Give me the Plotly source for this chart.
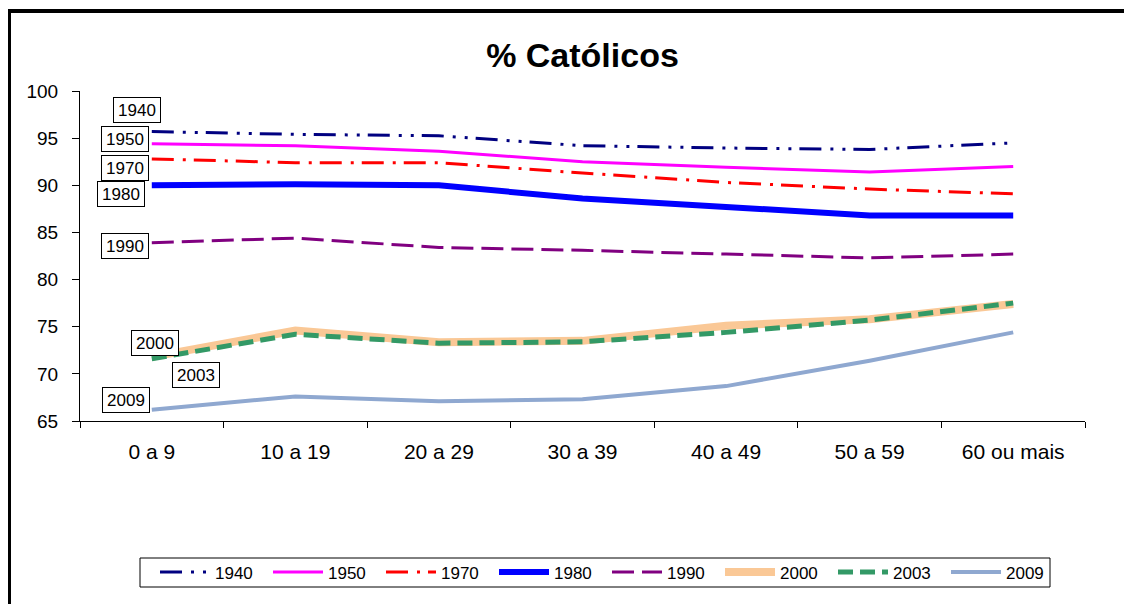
import plotly.graph_objects as go

categories = ["0 a 9", "10 a 19", "20 a 29", "30 a 39", "40 a 49", "50 a 59", "60 ou mais"]
years = ["1940", "1950", "1970", "1980", "1990", "2000", "2003", "2009"]
p1940 = [95.7, 95.4, 95.25, 94.2, 93.95, 93.8, 94.5]
p1950 = [94.4, 94.2, 93.6, 92.5, 91.9, 91.4, 92.0]
p1970 = [92.8, 92.4, 92.4, 91.3, 90.3, 89.6, 89.1]
p1980 = [90.0, 90.1, 90.0, 88.6, 87.7, 86.8, 86.8]
p1990 = [83.9, 84.4, 83.4, 83.1, 82.7, 82.3, 82.7]
p2000 = [71.8, 74.6, 73.35, 73.5, 75.1, 75.8, 77.4]
p2003 = [71.6, 74.2, 73.25, 73.4, 74.4, 75.7, 77.5]
p2009 = [66.2, 67.6, 67.1, 67.3, 68.7, 71.4, 74.4]
series = [p1940, p1950, p1970, p1980, p1990, p2000, p2003, p2009]

styles = {
    "1940": dict(color="#000080", width=3, dash="22px,9px,3px,9px,3px,8px"),
    "1950": dict(color="#FF00FF", width=3, dash="solid"),
    "1970": dict(color="#FF0000", width=3, dash="22px,9px,3px,8px"),
    "1980": dict(color="#0000FF", width=6, dash="solid"),
    "1990": dict(color="#800080", width=3, dash="22px,8px"),
    "2000": dict(color="#FAC896", width=8, dash="solid"),
    "2003": dict(color="#339966", width=5, dash="15px,7px"),
    "2009": dict(color="#8FA8D0", width=4, dash="solid"),
}

# label box positions (category index, value)
label_pos = {
    "1940": (-0.10, 98.0),
    "1950": (-0.19, 94.9),
    "1970": (-0.19, 91.8),
    "1980": (-0.215, 89.1),
    "1990": (-0.19, 83.6),
    "2000": (0.02, 73.3),
    "2003": (0.31, 69.9),
    "2009": (-0.18, 67.2),
}

FONT = "Arial, Liberation Sans, sans-serif"

# screen geometry (page body has an 8px margin)
OFF = 8
PL, PR, PT, PB = 80, 1085, 91, 421  # plot area in screen pixels
PW, PH = PR - PL, PB - PT


def px_x(sx):
    return (sx - PL) / PW


def px_y(sy):
    return (PB - sy) / PH


fig = go.Figure()
for yr, vals in zip(years, series):
    st = styles[yr]
    fig.add_trace(go.Scatter(
        x=categories, y=vals, mode="lines", name=yr,
        line=dict(color=st["color"], width=st["width"], dash=st["dash"]),
    ))

for yr in years:
    x, y = label_pos[yr]
    fig.add_annotation(
        x=x, y=y, xref="x", yref="y", text=yr, showarrow=False,
        font=dict(family=FONT, size=17, color="black"),
        bgcolor="white", bordercolor="black", borderwidth=1, borderpad=2,
        width=42, height=20,
    )

# outer chart border (left and top visible)
fig.add_shape(type="line", xref="paper", yref="paper",
              x0=px_x(9), x1=px_x(9), y0=px_y(9), y1=px_y(620),
              line=dict(color="black", width=4))
fig.add_shape(type="line", xref="paper", yref="paper",
              x0=px_x(7), x1=px_x(1140), y0=px_y(11), y1=px_y(11),
              line=dict(color="black", width=4))
# legend frame
fig.add_shape(type="rect", xref="paper", yref="paper",
              x0=px_x(140), x1=px_x(1050), y0=px_y(558), y1=px_y(587),
              line=dict(color="black", width=1), fillcolor="rgba(0,0,0,0)")

fig.update_layout(
    width=1132 - OFF, height=604 - OFF,
    margin=dict(l=PL - OFF, r=1132 - PR, t=PT - OFF, b=604 - PB),
    paper_bgcolor="white", plot_bgcolor="white",
    font=dict(family=FONT, size=17, color="black"),
    title=dict(text="<b>% Católicos</b>", x=0.5, xref="paper",
               y=1 - (55 - OFF) / (604 - OFF), yref="container", yanchor="middle",
               font=dict(family=FONT, size=34, color="black")),
    showlegend=True,
    legend=dict(orientation="h", x=px_x(155), xanchor="left",
                y=px_y(572.5), yanchor="middle",
                borderwidth=0, bgcolor="rgba(0,0,0,0)",
                font=dict(family=FONT, size=17, color="black"),
                itemwidth=50, entrywidth=48, traceorder="normal"),
)
fig.update_xaxes(type="category", range=[-0.5, 6.5], showgrid=False,
                 showline=True, linecolor="black", linewidth=1,
                 ticks="outside", ticklen=6, tickcolor="black", tickson="boundaries",
                 ticklabelstandoff=12,
                 tickfont=dict(family=FONT, size=21, color="black"))
fig.update_yaxes(range=[65, 100], dtick=5, tick0=65, showgrid=False, zeroline=False,
                 showline=True, linecolor="black", linewidth=1,
                 ticks="outside", ticklen=7, tickcolor="black",
                 ticklabelstandoff=10,
                 tickfont=dict(family=FONT, size=19, color="black"))

fig.write_html("out.html")
